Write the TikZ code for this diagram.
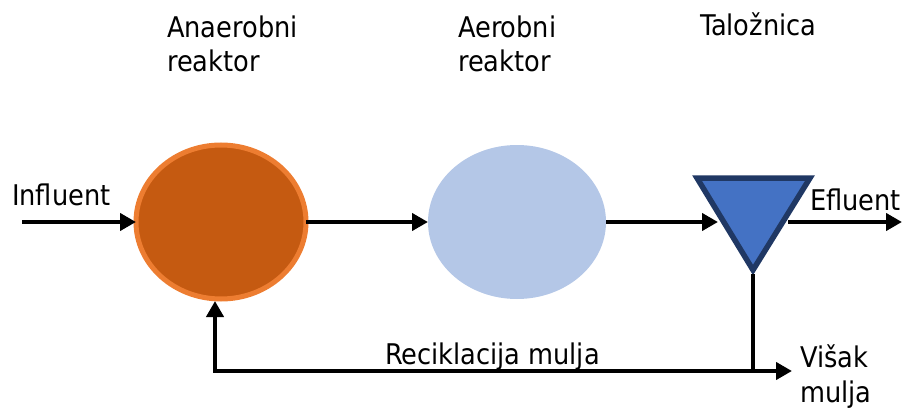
\documentclass[tikz,border=0pt]{standalone}
\usepackage{fontspec}
\setmainfont{DejaVu Sans Condensed}
\usetikzlibrary{arrows.meta}
\definecolor{anaFill}{HTML}{C55A11}
\definecolor{anaEdge}{HTML}{ED7D31}
\definecolor{aerFill}{HTML}{B4C7E7}
\definecolor{talFill}{HTML}{4472C4}
\definecolor{talEdge}{HTML}{203864}
\begin{document}
\begin{tikzpicture}[x=1pt,y=-1pt,
  flow/.style={line width=4.5pt,-{Triangle[length=16pt,width=17pt]}},
  plain/.style={line width=4.5pt},
  lbl/.style={inner sep=0pt,anchor=base west,align=left,font=\fontsize{28.5}{35}\selectfont}]
\useasboundingbox (0,0) rectangle (903,412);
% reactors
\draw[anaEdge,fill=anaFill,line width=5pt] (221,222) ellipse [x radius=85,y radius=77];
\coordinate (anaL) at (136,222);
\coordinate (anaR) at (306,222);
\coordinate (anaB) at (215,301);
\fill[aerFill] (517,222) ellipse [x radius=89,y radius=77];
\coordinate (aerL) at (428,222);
\coordinate (aerR) at (606,222);
% clarifier
\draw[talEdge,fill=talFill,line width=5.5pt,line join=miter] (697,178) -- (810,178) -- (753,270) -- cycle;
\coordinate (talL) at (718,222);
\coordinate (talR) at (788,222);
\coordinate (talB) at (753,274);
% connectors
\coordinate (inS) at (22,222);
\coordinate (outE) at (902,222);
\coordinate (corner) at (753,371);
\coordinate (cornerL) at (215,371);
\coordinate (wasteE) at (792,371);
\draw[flow] (inS) -- (anaL);
\draw[flow] (anaR) -- (aerL);
\draw[flow] (aerR) -- (talL);
\draw[flow] (talR) -- (outE);
\draw[plain] (talB) -- (corner);
\draw[flow] (corner) -- (cornerL) -- (anaB);
\draw[flow] (cornerL) -- (wasteE);
% labels
\node[lbl] (t1) at (167,72) {Anaerobni\\reaktor};
\node[lbl] (t2) at (458,72) {Aerobni\\reaktor};
\node[lbl] (t3) at (700,36) {Taložnica};
\node[lbl] (t4) at (12,205) {Influent};
\node[lbl] (t5) at (810,210) {Efluent};
\node[lbl] (t6) at (385,364) {Reciklacija mulja};
\node[lbl] (t7) at (800,402) {Višak\\mulja};
\end{tikzpicture}
\end{document}
